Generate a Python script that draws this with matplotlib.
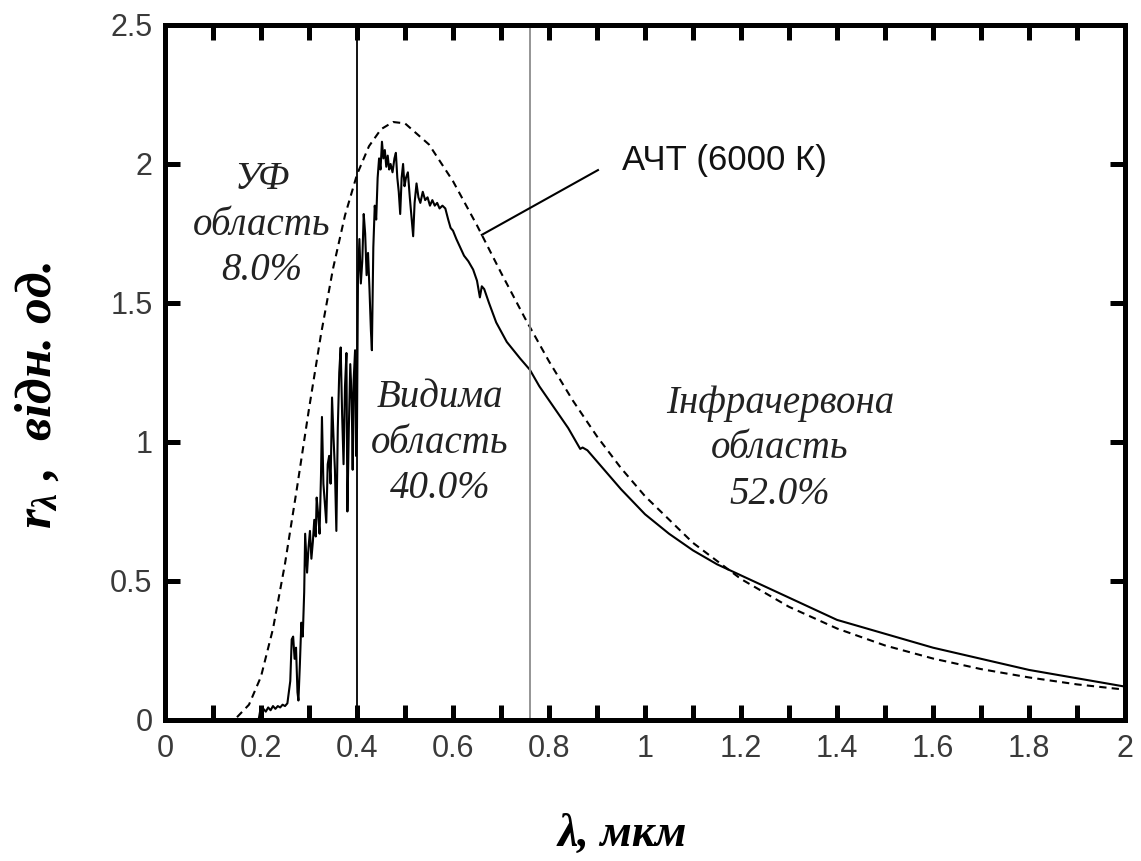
import numpy as np
import matplotlib
matplotlib.use('Agg')
import matplotlib.pyplot as plt
from matplotlib.ticker import MultipleLocator

plt.rcParams['mathtext.fontset'] = 'custom'
plt.rcParams['mathtext.it'] = 'Liberation Serif:italic:bold'
plt.rcParams['mathtext.rm'] = 'Liberation Serif:bold'

# solar spectrum (solid line)
lam_sun = [0.195, 0.198, 0.200, 0.205, 0.210, 0.215, 0.220, 0.225, 0.230, 0.235,
           0.240, 0.245, 0.250, 0.255, 0.258, 0.261, 0.264, 0.267, 0.270, 0.273,
           0.276, 0.278, 0.281, 0.284, 0.287, 0.290, 0.292, 0.294, 0.296, 0.299,
           0.302, 0.305, 0.308, 0.311, 0.314, 0.316, 0.319, 0.322, 0.325, 0.327,
           0.330, 0.333, 0.336, 0.339, 0.342, 0.345, 0.348, 0.351, 0.354, 0.357,
           0.360, 0.363, 0.366, 0.369, 0.372, 0.375, 0.378, 0.380, 0.383, 0.386,
           0.389, 0.391, 0.393, 0.396, 0.398, 0.400, 0.402, 0.405, 0.408, 0.411,
           0.414, 0.417, 0.420, 0.423, 0.426, 0.429, 0.431, 0.434, 0.437, 0.440,
           0.443, 0.446, 0.449, 0.452, 0.455, 0.458, 0.461, 0.464, 0.467, 0.470,
           0.474, 0.478, 0.481, 0.484, 0.487, 0.490, 0.493, 0.496, 0.499, 0.502,
           0.506, 0.510, 0.514, 0.517, 0.520, 0.524, 0.528, 0.532, 0.537, 0.542,
           0.547, 0.552, 0.557, 0.562, 0.567, 0.572, 0.578, 0.584, 0.590, 0.595,
           0.600, 0.607, 0.615, 0.623, 0.632, 0.642, 0.650, 0.656, 0.660, 0.665,
           0.675, 0.690, 0.712, 0.740, 0.760, 0.780, 0.800, 0.820, 0.840, 0.850,
           0.860, 0.865, 0.870, 0.880, 0.900, 0.950, 1.000, 1.050, 1.100, 1.150,
           1.200, 1.250, 1.300, 1.350, 1.400, 1.500, 1.600, 1.700, 1.800, 1.900,
           2.000]
r_sun = [0.00, 0.03, 0.02, 0.04, 0.03, 0.045, 0.035, 0.05, 0.04, 0.05,
         0.045, 0.055, 0.05, 0.06, 0.10, 0.14, 0.29, 0.30, 0.22, 0.26,
         0.10, 0.07, 0.20, 0.35, 0.30, 0.46, 0.67, 0.60, 0.53, 0.62,
         0.68, 0.58, 0.64, 0.72, 0.66, 0.80, 0.74, 0.67, 0.88, 1.09,
         0.85, 0.78, 0.71, 0.92, 0.95, 0.85, 1.16, 1.02, 0.90, 0.68,
         1.05, 1.25, 1.34, 1.10, 0.92, 1.20, 1.32, 0.75, 1.05, 1.28,
         1.15, 0.90, 1.22, 1.33, 0.95, 1.05, 1.58, 1.73, 1.57, 1.65,
         1.82, 1.75, 1.60, 1.68, 1.55, 1.40, 1.33, 1.70, 1.85, 1.80,
         1.95, 2.02, 1.98, 2.08, 2.02, 2.05, 1.99, 2.03, 1.98, 2.00,
         1.97, 2.02, 2.04, 1.95, 1.90, 1.82, 1.95, 2.00, 1.92, 1.95,
         1.97, 1.88, 1.80, 1.74, 1.86, 1.93, 1.88, 1.86, 1.90, 1.87,
         1.88, 1.85, 1.87, 1.85, 1.86, 1.84, 1.85, 1.84, 1.80, 1.77,
         1.76, 1.73, 1.70, 1.67, 1.65, 1.62, 1.58, 1.52, 1.56, 1.55,
         1.50, 1.43, 1.36, 1.30, 1.26, 1.20, 1.15, 1.10, 1.05, 1.02,
         0.99, 0.975, 0.98, 0.97, 0.93, 0.83, 0.74, 0.67, 0.61, 0.56,
         0.52, 0.48, 0.44, 0.40, 0.36, 0.31, 0.26, 0.22, 0.18, 0.15,
         0.12]

# black body 6000 K (dashed line)
lam_bb = [0.150, 0.175, 0.200, 0.225, 0.250, 0.275, 0.300, 0.325, 0.350, 0.375,
          0.400, 0.425, 0.450, 0.475, 0.500, 0.550, 0.600, 0.650, 0.700, 0.750,
          0.800, 0.850, 0.900, 0.950, 1.000, 1.100, 1.200, 1.300, 1.400, 1.500,
          1.600, 1.700, 1.800, 1.900, 2.000]
r_bb = [0.01, 0.055, 0.156, 0.328, 0.562, 0.835, 1.119, 1.387, 1.623, 1.815,
        1.962, 2.064, 2.125, 2.151, 2.146, 2.070, 1.938, 1.779, 1.609, 1.445,
        1.290, 1.148, 1.020, 0.906, 0.805, 0.637, 0.507, 0.407, 0.329, 0.268,
        0.221, 0.183, 0.153, 0.128, 0.109]

uv_edge = 0.4
ir_edge = 0.76

fig = plt.figure(figsize=(11.41, 8.61), dpi=100)
ax = fig.add_axes([0.1446, 0.1638, 0.8414, 0.8072])

ax.plot(lam_sun, r_sun, color='black', linewidth=1.5)
ax.plot(lam_bb, r_bb, color='black', linewidth=1.5, linestyle=(0, (3.5, 2.5)))
ax.axvline(uv_edge, color='black', linewidth=1.3)
ax.axvline(ir_edge, color='#8c8c8c', linewidth=1.3)

# pointer to the black body curve
ax.plot([0.660, 0.902], [1.745, 1.978], color='black', linewidth=1.5)
ax.text(0.952, 2.014, 'АЧТ (6000 К)', fontsize=25, family='Liberation Sans',
        va='center', ha='left', color='#111111')

note = dict(family='Liberation Serif', style='italic', fontsize=28,
            ha='center', va='center', color='#222222', linespacing=1.3)
ax.text(0.202, 1.78, 'УФ\nобласть\n8.0%', **note)
ax.text(0.573, 0.995, 'Видима\nобласть\n40.0%', **note)
ax.text(1.281, 0.975, 'Інфрачервона\nобласть\n52.0%', **note)

ax.set_xlim(0, 2)
ax.set_ylim(0, 2.5)
ax.xaxis.set_major_locator(MultipleLocator(0.2))
ax.xaxis.set_minor_locator(MultipleLocator(0.1))
ax.yaxis.set_major_locator(MultipleLocator(0.5))
ax.xaxis.set_major_formatter(plt.FuncFormatter(lambda v, p: '%g' % round(v, 1)))
ax.yaxis.set_major_formatter(plt.FuncFormatter(lambda v, p: '%g' % round(v, 1)))

for s in ax.spines.values():
    s.set_linewidth(3.6)
ax.tick_params(which='both', direction='in', top=True, right=True,
               length=11, width=3.6, color='black')
ax.tick_params(axis='x', which='major', pad=10)
ax.tick_params(axis='y', which='major', pad=9)
ax.tick_params(labelsize=22, labelcolor='#3a3a3a')
for lb in ax.get_xticklabels() + ax.get_yticklabels():
    lb.set_family('Liberation Sans')

fig.text(0.033, 0.541, r'$r_{\lambda}$ ,  відн. од.', rotation=90,
         family='Liberation Serif', style='italic', weight='bold',
         fontsize=37, ha='center', va='center')
fig.text(0.545, 0.030, 'λ, мкм', family='Liberation Serif', style='italic',
         weight='bold', fontsize=33, ha='center', va='center')

fig.savefig('out.png', dpi=100)
